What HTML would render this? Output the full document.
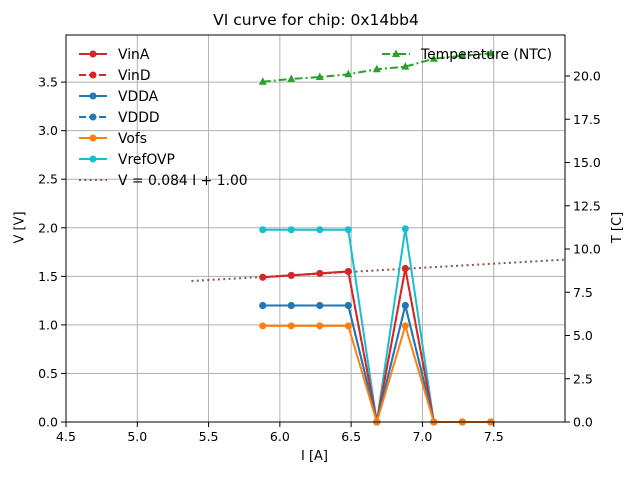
<!DOCTYPE html>
<html><head><meta charset="utf-8"><style>
body{margin:0;background:#fff;}
svg{display:block;font-family:"DejaVu Sans","Liberation Sans",sans-serif;}
</style></head><body>
<svg id="chart" width="640" height="480" viewBox="0 0 640 480"></svg>
<script>
const currents=[5.88,6.08,6.28,6.48,6.68,6.88,7.08,7.28,7.48];
const vinA=[1.49,1.51,1.53,1.55,0,1.58,0,0,0];
const vinD=[1.49,1.51,1.53,1.55,0,1.58,0,0,0];
const vdda=[1.2,1.2,1.2,1.2,0,1.2,0,0,0];
const vddd=[1.2,1.2,1.2,1.2,0,1.2,0,0,0];
const vofs=[0.99,0.99,0.99,0.99,0,0.99,0,0,0];
const vrefovp=[1.98,1.98,1.98,1.98,0,1.99,0,0,0];
const temps=[19.67,19.83,19.94,20.1,20.39,20.54,21.0,21.17,21.31];
const fitSlope=[0.084], fitIntercept=[1.00], fitRange=[5.38,8.0];
const xTicks=[4.5,5.0,5.5,6.0,6.5,7.0,7.5];
const yTicks=[0,0.5,1.0,1.5,2.0,2.5,3.0,3.5];
const tTicks=[0,2.5,5.0,7.5,10.0,12.5,15.0,17.5,20.0];

const L=66,R=565,T=35,B=422;
const X=v=>L+(v-4.5)/(8.0-4.5)*(R-L);
const Y=v=>B-(v)/3.985*(B-T);
const YT=v=>B-(v)/22.37*(B-T);
const svg=document.getElementById('chart');
const NS='http://www.w3.org/2000/svg';
function mk(tag,attrs,parent){const e=document.createElementNS(NS,tag);for(const k in attrs)e.setAttribute(k,attrs[k]);(parent||svg).appendChild(e);return e;}
function txt(s,attrs){const e=mk('text',attrs);e.textContent=s;return e;}

xTicks.forEach(v=>{const l=mk('line',{x1:X(v),x2:X(v),y1:T,y2:B,stroke:'#b0b0b0','stroke-width':1});

});
yTicks.forEach(v=>{const l=mk('line',{x1:L,x2:R,y1:Y(v),y2:Y(v),stroke:'#b0b0b0','stroke-width':1});

});

function series(name,vals,color,dash,marker,yf){
  const g=mk('g',{});
  
  
  const pts=currents.map((c,i)=>X(c)+','+yf(vals[i])).join(' ');
  mk('polyline',{points:pts,fill:'none',stroke:color,'stroke-width':2,'stroke-dasharray':dash||''},g);
  currents.forEach((c,i)=>{
    if(marker==='tri'){const x=X(c),y=yf(vals[i]);mk('polygon',{points:`${x},${y-4.5} ${x-4},${y+3} ${x+4},${y+3}`,fill:color},g);}
    else mk('circle',{cx:X(c),cy:yf(vals[i]),r:3.5,fill:color},g);
  });
}
const fl=mk('line',{x1:X(fitRange[0]),y1:Y(fitSlope[0]*fitRange[0]+fitIntercept[0]),x2:X(fitRange[1]),y2:Y(fitSlope[0]*fitRange[1]+fitIntercept[0]),stroke:'#8c564b','stroke-width':2,'stroke-dasharray':'2,3.3'});


series('series-vrefovp',vrefovp,'#17becf','','c',Y);
series('series-vina',vinA,'#d62728','','c',Y);
series('series-vind',vinD,'#d62728','7,3','c',Y);
series('series-vdda',vdda,'#1f77b4','','c',Y);
series('series-vddd',vddd,'#1f77b4','7,3','c',Y);
series('series-vofs',vofs,'#ff7f0e','','c',Y);
series('series-temperature',temps,'#2ca02c','8,3,2,3','tri',YT);

mk('rect',{x:L,y:T,width:R-L,height:B-T,fill:'none',stroke:'#000','stroke-width':1});
xTicks.forEach(v=>{mk('line',{x1:X(v),x2:X(v),y1:B,y2:B+5,stroke:'#000'});const t=txt(v.toFixed(1),{x:X(v),y:B+19,'font-size':12.5,'text-anchor':'middle'});});
yTicks.forEach(v=>{mk('line',{x1:L-5,x2:L,y1:Y(v),y2:Y(v),stroke:'#000'});const t=txt(v.toFixed(1),{x:L-8,y:Y(v)+4.5,'font-size':12.5,'text-anchor':'end'});});
tTicks.forEach(v=>{mk('line',{x1:R,x2:R+5,y1:YT(v),y2:YT(v),stroke:'#000'});const t=txt(v.toFixed(1),{x:R+8,y:YT(v)+4.5,'font-size':12.5});});
</script>
<div style="position:absolute;left:0;top:0;width:640px;height:480px;pointer-events:none;font-family:'DejaVu Sans','Liberation Sans',sans-serif;">
<div style="position:absolute;left:0;width:632px;top:11px;text-align:center;font-size:15.5px;">VI curve for chip: 0x14bb4</div>
<div style="position:absolute;left:301px;top:449px;font-size:13px;">I [A]</div>
<div style="position:absolute;left:4px;top:220px;font-size:13px;transform:rotate(-90deg);transform-origin:center;">V [V]</div>
<div style="position:absolute;left:602px;top:220px;font-size:13px;transform:rotate(-90deg);">T [C]</div>
</div>
<svg style="position:absolute;left:0;top:0" width="640" height="480">
<g font-family="DejaVu Sans, Liberation Sans, sans-serif" font-size="13.9">
<g><line x1="79" x2="107" y1="54" y2="54" stroke="#d62728" stroke-width="2"/><circle cx="93" cy="54" r="3.5" fill="#d62728"/><text x="118" y="59">VinA</text></g>
<g><line x1="79" x2="107" y1="75" y2="75" stroke="#d62728" stroke-width="2" stroke-dasharray="7,3"/><circle cx="93" cy="75" r="3.5" fill="#d62728"/><text x="118" y="80">VinD</text></g>
<g><line x1="79" x2="107" y1="96" y2="96" stroke="#1f77b4" stroke-width="2"/><circle cx="93" cy="96" r="3.5" fill="#1f77b4"/><text x="118" y="101">VDDA</text></g>
<g><line x1="79" x2="107" y1="117" y2="117" stroke="#1f77b4" stroke-width="2" stroke-dasharray="7,3"/><circle cx="93" cy="117" r="3.5" fill="#1f77b4"/><text x="118" y="122">VDDD</text></g>
<g><line x1="79" x2="107" y1="138" y2="138" stroke="#ff7f0e" stroke-width="2"/><circle cx="93" cy="138" r="3.5" fill="#ff7f0e"/><text x="118" y="143">Vofs</text></g>
<g><line x1="79" x2="107" y1="159" y2="159" stroke="#17becf" stroke-width="2"/><circle cx="93" cy="159" r="3.5" fill="#17becf"/><text x="118" y="164">VrefOVP</text></g>
<g><line x1="79" x2="107" y1="180" y2="180" stroke="#8c564b" stroke-width="2" stroke-dasharray="2,3.3"/><text x="118" y="185">V = 0.084 I + 1.00</text></g>
<g><line x1="382" x2="410" y1="54" y2="54" stroke="#2ca02c" stroke-width="2" stroke-dasharray="8,3,2,3"/><polygon points="396,49.5 392,57 400,57" fill="#2ca02c"/><text x="421" y="59">Temperature (NTC)</text></g>
</g></svg>
</body></html>
